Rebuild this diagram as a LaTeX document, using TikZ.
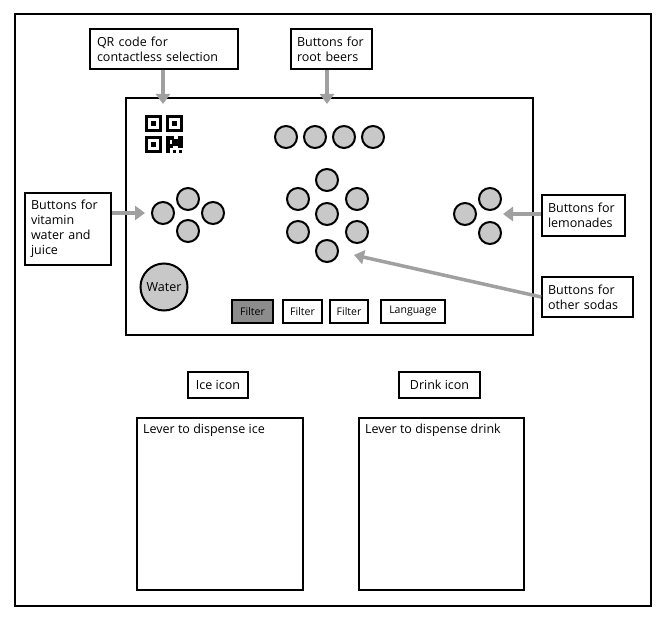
\documentclass[tikz,border=0pt]{standalone}
\usepackage{fontspec}
\setmainfont{Open Sans}
\usetikzlibrary{arrows.meta}
\definecolor{btn}{HTML}{C8C8C8}
\definecolor{arr}{HTML}{A0A0A0}
\definecolor{dark}{HTML}{8C8C8C}
\tikzset{
  frame/.style={draw=black, line width=2pt, fill=white},
  callout/.style={draw=black, line width=1.6pt, fill=white, inner sep=6pt, align=left,
    font=\fontsize{12.5}{15}\selectfont},
  btnc/.style={circle, draw=black, line width=2pt, fill=btn, minimum size=22pt, inner sep=0pt},
  small/.style={draw=black, line width=1.5pt, fill=white, minimum height=23pt, inner sep=2pt,
    font=\fontsize{10.5}{12}\selectfont},
  garrow/.style={draw=arr, line width=3.5pt, -{Triangle[length=10pt,width=14pt]}},
  qrb/.style={fill=black}
}
\begin{document}
\begin{tikzpicture}[x=1pt,y=-1pt]
\useasboundingbox (0,0) rectangle (667,620);
\fill[white] (0,0) rectangle (667,620);
% outer frame
\node[frame, minimum width=636pt, minimum height=592pt, anchor=north west, inner sep=0pt] (outer) at (14,13) {};
% panel
\node[frame, minimum width=407pt, minimum height=237pt, anchor=north west, inner sep=0pt] (panel) at (125,97) {};

% QR code
\begin{scope}[shift={(145,115)}]
  \fill[qrb] (0,0) rectangle (17,17); \fill[white] (3,3) rectangle (14,14); \fill[qrb] (6,6) rectangle (11,11);
  \fill[qrb] (21,0) rectangle (38,17); \fill[white] (24,3) rectangle (35,14); \fill[qrb] (27,6) rectangle (32,11);
  \fill[qrb] (0,21) rectangle (17,38); \fill[white] (3,24) rectangle (14,35); \fill[qrb] (6,27) rectangle (11,32);
  \fill[qrb] (21,21) rectangle (25,38);
  \fill[qrb] (21,21) rectangle (29,25);
  \fill[qrb] (27,24) rectangle (33,31);
  \fill[qrb] (33,21) rectangle (38,33);
  \fill[qrb] (25,29) rectangle (28,33);
  \fill[qrb] (28,35) rectangle (31,38);
  \fill[qrb] (34,35) rectangle (37,38);
\end{scope}
\coordinate (qrt) at (163,104);

% root beer buttons
\node[btnc] (rb1) at (286,137) {};
\node[btnc] (rb2) at (315,137) {};
\node[btnc] (rb3) at (344,137) {};
\node[btnc] (rb4) at (373,137) {};
\coordinate (rbt) at (327,104);

% vitamin cluster
\node[btnc] (v1) at (163,213) {};
\node[btnc] (v2) at (188,199) {};
\node[btnc] (v3) at (213,213) {};
\node[btnc] (v4) at (188,231) {};
\coordinate (vt) at (145,213);

% center cluster
\node[btnc] (c1) at (327,180) {};
\node[btnc] (c2) at (298,199) {};
\node[btnc] (c3) at (357,199) {};
\node[btnc] (c4) at (327,214) {};
\node[btnc] (c5) at (298,232) {};
\node[btnc] (c6) at (357,232) {};
\node[btnc] (c7) at (327,251) {};
\coordinate (ct) at (354,255);

% lemonade cluster
\node[btnc] (l1) at (465,214) {};
\node[btnc] (l2) at (490,199) {};
\node[btnc] (l3) at (490,233) {};
\coordinate (lt) at (503,214);

% water
\node[circle, draw=black, line width=2pt, fill=btn, minimum size=47pt, inner sep=0pt,
  font=\fontsize{12.5}{14}\selectfont] (water) at (164,287) {Water};

% filter buttons
\node[small, fill=dark, minimum width=41pt] (f1) at (252.5,311.5) {Filter};
\node[small, minimum width=39pt] (f2) at (302.5,311.5) {Filter};
\node[small, minimum width=38pt] (f3) at (349,311.5) {Filter};
\node[small, minimum width=64pt] (lang) at (413,311.5) {Language};

% callouts
\node[callout, minimum width=148pt, minimum height=40pt, text width=134pt] (qrc) at (164,49) {QR code for\\contactless selection};
\node[callout, minimum width=81pt, minimum height=40pt, text width=69pt] (rbc) at (331.5,49) {Buttons for\\root beers};
\node[callout, minimum width=86pt, minimum height=72pt, text width=74pt] (vc) at (68,229) {Buttons for\\vitamin\\water and\\juice};
\node[callout, minimum width=83pt, minimum height=41pt, text width=71pt] (lc) at (583.5,215.5) {Buttons for\\lemonades};
\node[callout, minimum width=91pt, minimum height=40pt, text width=79pt] (oc) at (587.5,297) {Buttons for\\other sodas};

% arrows
\draw[garrow] (qrc.south -| qrt) -- (qrt);
\draw[garrow] (rbc.south -| rbt) -- (rbt);
\draw[garrow] (vc.east |- vt) -- (vt);
\draw[garrow] (lc.west |- lt) -- (lt);
\draw[garrow] (oc.west) -- (ct);

% bottom
\node[small, minimum width=60pt, minimum height=26pt, font=\fontsize{12.5}{14}\selectfont] (ice) at (218,385) {Ice icon};
\node[small, minimum width=81pt, minimum height=26pt, font=\fontsize{12.5}{14}\selectfont] (drink) at (439.5,385) {Drink icon};
\node[draw=black, line width=1.8pt, minimum width=166pt, minimum height=172pt, anchor=north west, inner sep=0pt] (lice) at (136,417) {};
\node[draw=black, line width=1.8pt, minimum width=165pt, minimum height=172pt, anchor=north west, inner sep=0pt] (ldrink) at (358,417) {};
\node[anchor=north west, inner sep=0pt, font=\fontsize{12.5}{14}\selectfont] (tice) at ([xshift=7pt,yshift=-7pt]lice.north west) {Lever to dispense ice};
\node[anchor=north west, inner sep=0pt, font=\fontsize{12.5}{14}\selectfont] (tdrink) at ([xshift=7pt,yshift=-7pt]ldrink.north west) {Lever to dispense drink};
\end{tikzpicture}
\end{document}
